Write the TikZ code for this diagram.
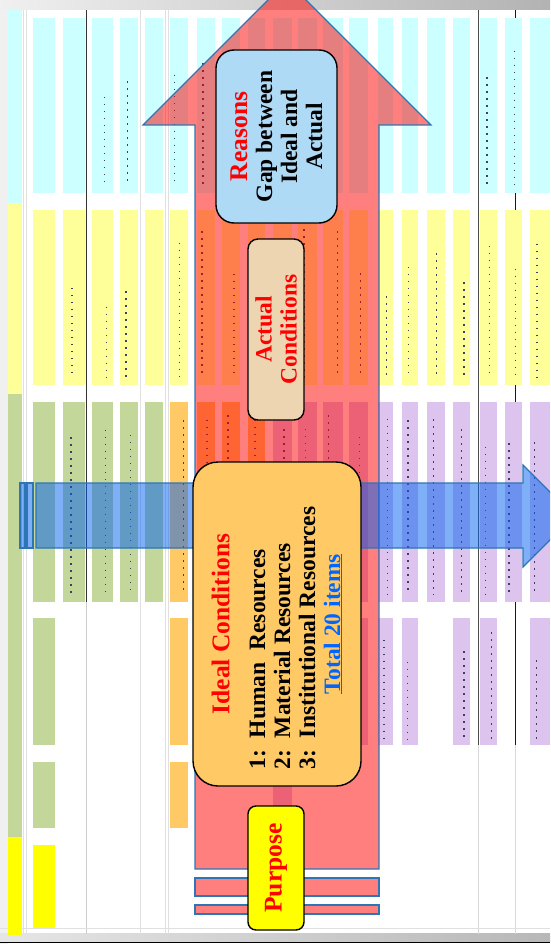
\documentclass[tikz,border=0pt]{standalone}
\usepackage{fontspec}
\setmainfont{Liberation Serif}
\usepackage{tikz}
\usetikzlibrary{positioning}
\definecolor{Tcyan}{HTML}{CCFFFF}
\definecolor{Tyellow}{HTML}{FFFF99}
\definecolor{Tgreen}{HTML}{C4D79B}
\definecolor{Torange}{HTML}{FFC966}
\definecolor{Tpurple}{HTML}{DCC4EE}
\definecolor{Tbright}{HTML}{FFFF00}
\definecolor{Tdata}{HTML}{2A2A50}
\definecolor{Aline}{HTML}{2E75B6}
\definecolor{Ared}{HTML}{FF0000}
\definecolor{Ablue}{RGB}{0,96,240}
\definecolor{Breason}{HTML}{AFDAF5}
\definecolor{Bactual}{HTML}{EED5B1}
\definecolor{Bideal}{HTML}{FFC966}
\definecolor{Blink}{HTML}{0066FF}

\begin{document}
\begin{tikzpicture}[
  x=1pt, y=-1pt, font=\bfseries,
  grid/.style    ={line width=0.8pt},
  data/.style    ={Tdata!90, line width=1.5pt, dash pattern=on 1.5pt off 5.5pt},
  bigarrow/.style={draw=Aline, line width=1.1pt, fill opacity=0.5},
  panel/.style   ={draw=black, line width=1.4pt, rotate=90, align=center, inner sep=2pt,
                   font=\fontsize{23.5}{25}\selectfont\bfseries},
  headfont/.style={font=\fontsize{25.5}{25}\selectfont\bfseries},
]
\useasboundingbox (0,0) rectangle (550,944);
\clip (0,0) rectangle (550,944);

% ── sheet frame ──────────────────────────────────────────────────────
\fill[black!6] (0,0) rectangle (8,944);
\shade[left color=black!6, right color=black!30] (0,0) rectangle (550,10);
\shade[left color=black!10, right color=black!28] (0,933) rectangle (550,942);
\draw[black, line width=1.2pt] (0,942.5) -- (550,942.5);

% ── cell borders ─────────────────────────────────────────────────────
\foreach \x in {23,26,140,165,168}
  \draw[grid, black!12] (\x,10) -- (\x,934);
\draw[grid, black!80] (86,10) -- (86,602);
\draw[grid, black!20] (86,602) -- (86,934);
\draw[grid, black!70] (478,10) -- (478,745);
\draw[grid, black!15] (478,745) -- (478,934);
\draw[grid, black!90] (515,10) -- (515,745);
\draw[grid, black!15] (515,745) -- (515,934);
\draw[grid, black!12] (0,928) -- (550,928);

% ── first column (group headings) ────────────────────────────────────
\fill[Tcyan]   (8,10)  rectangle (22,203);
\fill[Tyellow] (8,203) rectangle (22,394);
\fill[Tgreen]  (8,394) rectangle (22,837);
\fill[Tbright] (8,837) rectangle (22,935);

% ── table columns, row by row ────────────────────────────────────────
\foreach \l/\r in {33/55,63/85,92/113,120/138,145/163,170/188,197/215,222/240,
                   248/265,273/292,298/317,323/343,349/368,378/393,402/418,
                   427/445,453/470,480/497,505/522,530/550}{
  \fill[Tcyan]   (\l,18)  rectangle (\r,193);
  \fill[Tyellow] (\l,210) rectangle (\r,385);
}
\foreach \l/\r in {33/55,63/85,92/113,120/138,145/163}
  \fill[Tgreen] (\l,402) rectangle (\r,602);
\foreach \l/\r in {170/188,197/215,222/240,248/265}
  \fill[Torange] (\l,402) rectangle (\r,602);
\foreach \l/\r in {273/292,298/317,323/343,349/368,378/393,402/418,
                   427/445,453/470,480/497,505/522,530/550}
  \fill[Tpurple] (\l,402) rectangle (\r,602);
\foreach \l/\r in {273/292,349/368,378/393,402/418,453/470,480/497,530/550}
  \fill[Tpurple] (\l,618) rectangle (\r,745);
\fill[Tgreen]  (33,618)  rectangle (55,745);
\fill[Torange] (170,618) rectangle (188,745);
\fill[Tgreen]  (33,762)  rectangle (55,828);
\fill[Torange] (170,762) rectangle (188,828);
\fill[Tpurple] (273,762) rectangle (292,828);
\fill[Tbright] (33,845)  rectangle (55,928);

% ── cell entries (too small to read, drawn as dotted runs) ───────────
\pgfmathsetseed{11}
\foreach \l/\r in {92/113,120/138,170/188,197/215,480/497,505/522}{
  \pgfmathsetmacro\xa{\l+4+rnd*(\r-\l-8)}
  \pgfmathsetmacro\ys{40+rnd*60}
  \draw[data] (\xa,\ys) -- (\xa,186);
}
\foreach \l/\r in {63/85,92/113,120/138,170/188,197/215,222/240,248/265,273/292,
                   298/317,323/343,349/368,378/393,402/418,427/445,453/470,
                   480/497,505/522,530/550}{
  \pgfmathsetmacro\xa{\l+4+rnd*(\r-\l-8)}
  \pgfmathsetmacro\ys{225+rnd*90}
  \draw[data] (\xa,\ys) -- (\xa,378);
  \pgfmathsetmacro\xb{\l+4+rnd*(\r-\l-8)}
  \pgfmathsetmacro\ys{410+rnd*40}
  \draw[data] (\xb,\ys) -- (\xb,595);
}
\foreach \l/\r in {378/393,402/418,453/470,480/497,530/550}{
  \pgfmathsetmacro\xa{\l+4+rnd*(\r-\l-8)}
  \pgfmathsetmacro\ys{630+rnd*50}
  \draw[data] (\xa,\ys) -- (\xa,740);
}

% ── upward arrow with striped tail ───────────────────────────────────
\draw[bigarrow, fill=Ared] (195,869) -- (195,125) -- (143,125) -- (287,-19)
  -- (431,125) -- (379,125) -- (379,869) -- cycle;
\draw[bigarrow, fill=Ared] (195,878) rectangle (379,896);
\draw[bigarrow, fill=Ared] (195,905) rectangle (379,914);

% ── rightward arrow with striped tail ────────────────────────────────
\draw[bigarrow, fill=Ablue] (36,483) -- (523,483) -- (523,465) -- (574,516)
  -- (523,567) -- (523,548) -- (36,548) -- cycle;
\draw[bigarrow, fill=Ablue] (20,483) rectangle (25,548);
\draw[bigarrow, fill=Ablue] (27,483) rectangle (33,548);

% ── boxes ────────────────────────────────────────────────────────────
\node[panel, fill=Breason, rounded corners=18pt, minimum width=173pt, minimum height=121pt]
  (reasons) at (276.5,136.5)
  {{\fontsize{25.5}{25}\selectfont\textcolor{red}{Reasons}}\\Gap between\\Ideal and\\Actual};

\node[panel, fill=Bactual, text=red, rounded corners=10pt, minimum width=181pt, minimum height=56pt]
  (actual) at (276,329.5) {Actual\\Conditions};

\node[panel, fill=Bideal, rounded corners=25pt, minimum width=324pt, minimum height=168pt]
  (ideal) at (277,624)
  {{\fontsize{25.5}{25}\selectfont\textcolor{red}{Ideal Conditions}}\\[17pt]
   \hbox{\begin{tabular}{@{}l@{}}
     1:~~Human~~Resources\\
     2:~~Material~Resources\\
     3:~~Institutional~Resources
   \end{tabular}\kern28pt}\\
   \textcolor{Blink}{\underline{Total 20 items}}};

\node[panel, headfont, fill=Tbright, text=red, rounded corners=8pt, minimum width=124pt, minimum height=56pt]
  (purpose) at (276,868) {Purpose};

\end{tikzpicture}
\end{document}
